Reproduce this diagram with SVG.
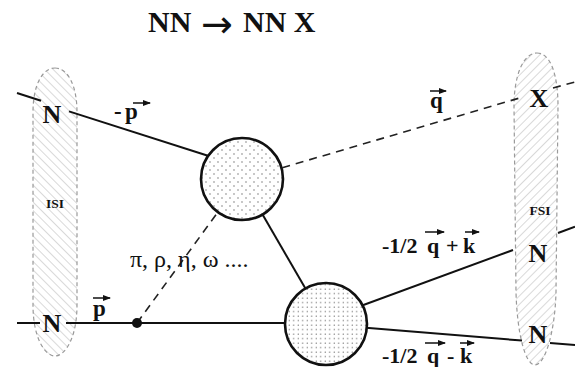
<svg xmlns="http://www.w3.org/2000/svg" width="575" height="367" viewBox="0 0 575 367">
<style>
  .lbl{font-family:"Liberation Serif","Times New Roman","DejaVu Serif",serif;font-weight:bold;fill:#111}
  .node{font-size:26px;text-anchor:middle}
  .blob{fill:url(#hatchL);stroke:#9a9a9a;stroke-width:1.2;stroke-dasharray:4 3}
  .blobR{fill:url(#hatchR);stroke:#9a9a9a;stroke-width:1.2;stroke-dasharray:4 3}
  .line{stroke:#111;stroke-width:2;fill:none}
  .dash{stroke:#222;stroke-width:1.6;stroke-dasharray:8 6;fill:none}
  .vec{stroke:#111;stroke-width:1.5;marker-end:url(#ah)}
  .vert{stroke:#111;stroke-width:2.6}
</style>
<defs>
  <pattern id="hatchL" width="6" height="6" patternUnits="userSpaceOnUse" patternTransform="rotate(-45)">
    <line x1="0" y1="0" x2="0" y2="6" stroke="#b3b3b3" stroke-width="1"/>
  </pattern>
  <pattern id="hatchR" width="6" height="6" patternUnits="userSpaceOnUse" patternTransform="rotate(45)">
    <line x1="0" y1="0" x2="0" y2="6" stroke="#b3b3b3" stroke-width="1"/>
  </pattern>
  <pattern id="dotsA" width="8" height="8" patternUnits="userSpaceOnUse">
    <rect width="8" height="8" fill="#fff"/>
    <circle cx="2" cy="2" r="0.7" fill="#666"/>
    <circle cx="6" cy="6" r="0.7" fill="#666"/>
  </pattern>
  <pattern id="dotsB" width="4.5" height="4.5" patternUnits="userSpaceOnUse">
    <rect width="4.5" height="4.5" fill="#fff"/>
    <circle cx="1.2" cy="1.2" r="0.65" fill="#666"/>
  </pattern>
  <marker id="ah" markerWidth="8" markerHeight="6" refX="7" refY="3" orient="auto" markerUnits="userSpaceOnUse">
    <path d="M0,0 L8,3 L0,6 Z" fill="#111"/>
  </marker>
</defs>

<g id="title">
  <text class="lbl" font-size="30" y="32"><tspan x="148">NN</tspan><tspan x="201" y="37" font-family="'DejaVu Sans',sans-serif" font-weight="normal" font-size="38">→</tspan><tspan x="243" y="32">NN X</tspan></text>
</g>

<g id="ISI">
  <path class="blob" d="M55 68 C68 68 77 86 77 112 L77 305 C77 338 65 356 55 356 C45 356 33 338 33 305 L33 112 C33 86 42 68 55 68 Z"/>
  <text class="lbl" x="55" y="208" font-size="13.5" text-anchor="middle">ISI</text>
</g>
<g id="FSI">
  <path class="blobR" d="M537 53 C551 53 558 76 558 106 L556 292 C555 332 545 365 535 365 C525 365 517 332 516 292 L514 106 C514 76 523 53 537 53 Z"/>
  <text class="lbl" x="540" y="215" font-size="13.5" text-anchor="middle">FSI</text>
</g>

<g id="connectors">
  <line class="line" x1="17" y1="93" x2="41" y2="100.7"/>
  <line class="line" x1="69" y1="111.4" x2="215" y2="158"/>
  <line class="line" x1="17" y1="323" x2="40" y2="323"/>
  <line class="line" x1="66" y1="323" x2="326" y2="323"/>
  <line class="line" x1="242" y1="179" x2="326" y2="324"/>
  <line class="line" x1="326" y1="318.7" x2="513" y2="250"/>
  <line class="line" x1="558" y1="233" x2="575" y2="226.8"/>
  <line class="line" x1="326" y1="324.6" x2="522" y2="340.6"/>
  <line class="line" x1="550" y1="343" x2="575" y2="345"/>
  <line class="dash" x1="242" y1="179.6" x2="523" y2="97"/>
  <line class="dash" x1="553" y1="88" x2="575" y2="82"/>
  <line class="dash" x1="137" y1="323" x2="242" y2="179"/>
  <circle cx="137" cy="323" r="5" fill="#111"/>
</g>

<g id="vertexTop">
  <circle cx="242" cy="179" r="41" fill="url(#dotsA)" class="vert"/>
</g>
<g id="vertexBottom">
  <circle cx="326" cy="324" r="41" fill="url(#dotsB)" class="vert"/>
</g>

<g id="nodeN1"><text class="lbl node" x="52" y="123">N</text></g>
<g id="nodeN2"><text class="lbl node" x="52" y="332">N</text></g>
<g id="nodeX"><text class="lbl node" x="539" y="107">X</text></g>
<g id="nodeN3"><text class="lbl node" x="538" y="262">N</text></g>
<g id="nodeN4"><text class="lbl node" x="538" y="343">N</text></g>

<g id="labels">
  <text class="lbl" font-size="23" y="119"><tspan x="114">-</tspan><tspan x="125">p</tspan></text>
  <line class="vec" x1="133" y1="103" x2="150" y2="103"/>
  <text class="lbl" font-size="23" x="93" y="316">p</text>
  <line class="vec" x1="93" y1="298" x2="110" y2="298"/>
  <text class="lbl" font-size="23" x="430" y="108">q</text>
  <line class="vec" x1="430" y1="91" x2="446" y2="91"/>
  <text class="lbl" font-size="22" y="253"><tspan x="382">-1/2</tspan><tspan x="427">q</tspan><tspan x="446">+</tspan><tspan x="463">k</tspan></text>
  <line class="vec" x1="425" y1="232" x2="444" y2="232"/>
  <line class="vec" x1="465" y1="232" x2="479" y2="232"/>
  <text class="lbl" font-size="22" y="363"><tspan x="382">-1/2</tspan><tspan x="427">q</tspan><tspan x="447">-</tspan><tspan x="460">k</tspan></text>
  <line class="vec" x1="425" y1="343" x2="445" y2="343"/>
  <line class="vec" x1="460" y1="343" x2="474" y2="343"/>
  <text x="130" y="267" font-family="'Liberation Serif','Times New Roman',serif" font-size="24" fill="#111">π, ρ, η, ω ....</text>
</g>
</svg>
